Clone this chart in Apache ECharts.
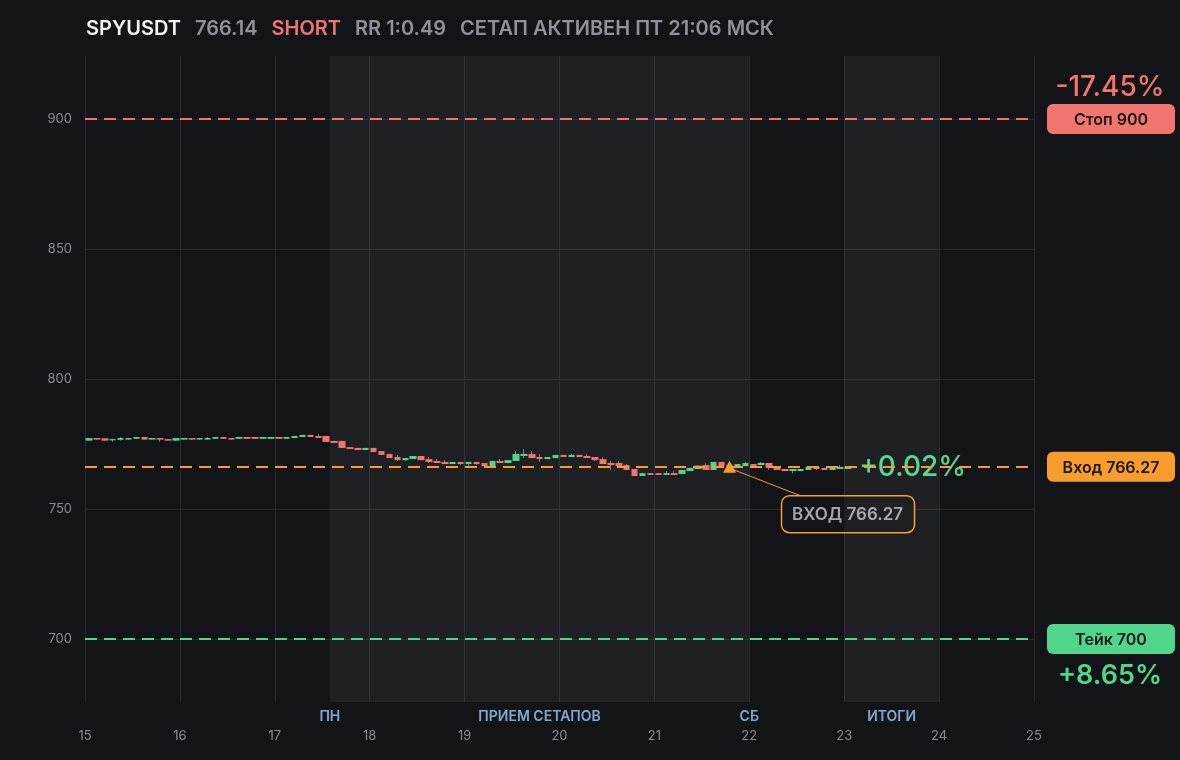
<!DOCTYPE html>
<html>
<head>
<meta charset="utf-8">
<script src="https://cdn.jsdelivr.net/npm/echarts@6/dist/echarts.min.js"></script>
<style>
html, body { margin: 0; padding: 0; background: #131418; }
#chart { width: 1180px; height: 760px; }
</style>
</head>
<body>
<div id="chart"></div>
<script>
// 2h свечи, первая начинается 15-го числа
const startDay = 15
const candlesPerDay = 12

const opens = [
  776.3, 777.3, 777.2, 776.4, 776.6, 776.7, 777.0, 777.7, 776.7, 777.3,
  776.9, 776.3, 776.7, 777.3, 776.7, 776.7, 777.0, 777.7, 777.3, 777.0,
  777.7, 777.7, 777.0, 777.0, 777.7, 777.0, 777.3, 777.7, 778.5, 778.1,
  778.1, 776.2, 776.2, 773.8, 773.5, 772.7, 773.5, 772.3, 771.2, 770.0,
  768.8, 769.2, 770.4, 769.2, 768.5, 768.1, 767.3, 768.1, 767.3, 768.1,
  767.7, 766.5, 768.5, 767.7, 768.5, 770.4, 771.2, 770.0, 769.2, 769.6,
  770.8, 770.0, 770.8, 770.4, 770.0, 769.2, 767.7, 767.7, 766.9, 765.4,
  762.7, 763.8, 763.8, 763.1, 763.8, 763.5, 764.6, 765.4, 766.9, 765.0,
  768.1, 766.5, 766.5, 766.5, 767.3, 766.9, 767.7, 765.8, 765.4, 764.6,
  764.6, 765.0, 766.2, 765.8, 765.0, 765.4, 765.4
]
const closes = [
  777.3, 776.7, 776.3, 776.9, 777.3, 777.3, 777.7, 776.7, 777.3, 776.7,
  776.3, 777.3, 777.3, 776.7, 777.3, 777.3, 777.7, 777.0, 776.7, 777.7,
  777.0, 777.0, 777.7, 777.7, 777.0, 777.7, 778.1, 778.5, 777.7, 777.3,
  775.8, 775.4, 773.5, 773.1, 772.7, 773.5, 771.9, 770.8, 769.6, 768.8,
  769.6, 770.4, 768.8, 768.1, 767.7, 767.3, 768.1, 767.3, 768.1, 767.3,
  766.5, 768.5, 767.7, 768.8, 771.2, 771.2, 769.6, 769.2, 770.0, 770.8,
  770.0, 770.8, 770.0, 769.6, 768.8, 767.3, 766.9, 766.5, 765.0, 762.7,
  763.8, 763.1, 763.1, 763.8, 763.1, 765.0, 765.8, 766.7, 765.0, 768.1,
  766.5, 767.0, 767.3, 767.7, 766.2, 767.7, 765.8, 765.0, 764.6, 765.4,
  765.4, 766.2, 765.4, 765.0, 765.8, 766.2, 766.14
]
const lows = [
  776.3, 776.7, 776.3, 775.9, 776.3, 776.7, 777.0, 776.7, 776.7, 775.9,
  776.3, 776.3, 776.7, 776.7, 776.7, 776.7, 777.0, 777.0, 776.7, 777.0,
  777.0, 777.0, 777.0, 777.0, 777.0, 777.0, 777.3, 777.7, 777.7, 777.3,
  775.8, 775.4, 773.5, 773.1, 772.7, 772.7, 771.9, 770.8, 769.6, 768.5,
  768.5, 769.2, 768.8, 767.7, 767.7, 767.3, 767.3, 766.9, 766.5, 766.9,
  766.5, 766.5, 767.7, 767.7, 768.5, 769.6, 769.6, 768.1, 769.2, 769.6,
  770.0, 770.0, 770.0, 769.6, 768.5, 767.3, 765.0, 766.5, 765.0, 762.7,
  762.7, 763.1, 763.1, 763.1, 763.1, 763.5, 764.6, 765.4, 765.0, 765.0,
  766.5, 766.5, 766.5, 766.5, 766.2, 766.9, 765.0, 765.0, 764.6, 763.8,
  764.6, 765.0, 765.0, 765.0, 765.0, 765.4, 765.4
]
const highs = [
  777.3, 777.3, 777.2, 776.9, 777.7, 777.3, 777.7, 777.7, 777.3, 777.3,
  776.9, 777.3, 777.3, 777.3, 777.3, 777.7, 777.7, 777.7, 777.3, 777.7,
  777.7, 777.7, 777.7, 777.7, 777.7, 777.7, 778.1, 778.5, 778.5, 778.8,
  778.1, 776.2, 776.2, 773.8, 773.5, 773.5, 773.5, 772.3, 771.2, 770.8,
  769.6, 770.4, 770.4, 770.0, 769.2, 768.8, 768.1, 768.1, 768.1, 768.1,
  767.7, 768.5, 769.2, 768.8, 772.3, 773.1, 772.3, 771.2, 770.0, 770.8,
  770.8, 771.2, 770.8, 771.2, 770.0, 770.0, 768.5, 768.5, 767.3, 765.4,
  763.8, 763.8, 763.8, 764.6, 764.6, 765.0, 765.8, 766.7, 767.7, 768.1,
  768.1, 767.0, 767.3, 768.1, 767.3, 768.1, 767.7, 765.8, 765.4, 765.4,
  765.4, 766.2, 766.5, 765.8, 765.8, 766.9, 766.2
]

const symbol = 'SPYUSDT'
const side = 'SHORT'
const lastPrice = 766.14
const entryPrice = 766.27
const stopPrice = 900
const takePrice = 700
const rr = '1:0.49'
const activeText = 'СЕТАП АКТИВЕН ПТ 21:06 МСК'
const entryCandle = 81

// полосы сессий и подписи под осью
const bands = [[17.58, 22], [23, 24]]
const eventNames = ['ПН', 'ПРИЕМ СЕТАПОВ', 'СБ', 'ИТОГИ']
const eventDays = [17.58, 19.79, 22, 23.5]

const yMin = 675.8
const yMax = 924.2

const GREEN = '#4fd68b'
const RED = '#f1756f'
const ORANGE = '#f89c2c'
const FONT = 'Inter, "Noto Sans", sans-serif'

const candleTime = i => startDay + (i + 0.5) / candlesPerDay

let wickData = opens.map((o, i) => [candleTime(i), o, closes[i], lows[i], highs[i]])
let bodyData = opens.map((o, i) => [candleTime(i), o, closes[i], Math.min(o, closes[i]), Math.max(o, closes[i])])

function pct(v) {
  // для шорта прибыль когда цена ниже входа
  let p = (entryPrice - v) / entryPrice * 100
  return (p >= 0 ? '+' : '-') + Math.abs(p).toFixed(2) + '%'
}

const chart = echarts.init(document.getElementById('chart'))

let option = {
  backgroundColor: '#131418',
  animation: false,
  title: {
    left: 86,
    top: 19,
    padding: 0,
    text: `{w|${symbol}}{s| }{g|${lastPrice.toFixed(2)}}{s| }{r|${side}}{s| }{g|RR ${rr}}{s| }{g|${activeText}}`,
    textStyle: {
      rich: {
        w: { color: '#f2f3f5', fontSize: 20, fontWeight: 600, fontFamily: FONT },
        g: { color: '#8f929a', fontSize: 20, fontWeight: 600, fontFamily: FONT },
        r: { color: RED, fontSize: 20, fontWeight: 600, fontFamily: FONT },
        s: { width: 14, fontSize: 20 }
      }
    }
  },
  grid: { left: 85, right: 146, top: 56, bottom: 58 },
  xAxis: {
    type: 'value',
    min: 15,
    max: 25,
    interval: 1,
    axisLine: { show: false },
    axisTick: { show: false },
    axisLabel: { color: '#8a8d95', fontSize: 13, fontFamily: FONT, margin: 28 },
    splitLine: { show: true, lineStyle: { color: '#26282d', width: 1 } }
  },
  yAxis: {
    type: 'value',
    min: yMin,
    max: yMax,
    splitNumber: 5,
    axisLine: { show: false },
    axisTick: { show: false },
    axisLabel: { color: '#8a8d95', fontSize: 13, fontFamily: FONT, margin: 13, showMinLabel: false, showMaxLabel: false },
    splitLine: { show: true, showMinLine: false, showMaxLine: false, lineStyle: { color: '#26282d', width: 1 } }
  },
  series: [
    {
      // тени серые, тело рисуется второй серией
      type: 'candlestick',
      data: wickData,
      encode: { x: 0, y: [1, 2, 3, 4] },
      barWidth: 1,
      itemStyle: { color: '#7c7f87', color0: '#7c7f87', borderColor: '#7c7f87', borderColor0: '#7c7f87', borderWidth: 1 },
      markArea: {
        silent: true,
        itemStyle: { color: 'rgba(255,255,255,0.055)' },
        data: bands.map(b => [{ xAxis: b[0] }, { xAxis: b[1] }])
      }
    },
    {
      type: 'candlestick',
      data: bodyData,
      encode: { x: 0, y: [1, 2, 3, 4] },
      barWidth: 7,
      itemStyle: { color: GREEN, color0: RED, borderColor: GREEN, borderColor0: RED, borderWidth: 0 },
      markLine: {
        silent: true,
        symbol: 'none',
        label: { show: false },
        data: [
          { yAxis: stopPrice, lineStyle: { color: RED, type: [12, 7], width: 2 } },
          { yAxis: entryPrice, lineStyle: { color: ORANGE, type: [12, 7], width: 2 } },
          { yAxis: takePrice, lineStyle: { color: GREEN, type: [12, 7], width: 2 } }
        ]
      },
      markPoint: {
        silent: true,
        data: [{
          coord: [candleTime(entryCandle), entryPrice],
          symbol: 'triangle',
          symbolSize: [13, 12],
          itemStyle: { color: ORANGE },
          label: { show: false }
        }]
      },
      z: 3
    },
    {
      type: 'scatter',
      data: eventDays.map((d, i) => ({ value: [d, yMin], name: eventNames[i] })),
      symbolSize: 0,
      clip: false,
      silent: true,
      label: {
        show: true,
        position: 'bottom',
        distance: 8,
        formatter: p => p.name,
        color: '#9dcdf7',
        fontSize: 14,
        fontWeight: 600,
        fontFamily: FONT
      }
    }
  ]
}

chart.setOption(option)

// подписи справа и аннотация входа
let graphics = []
const levels = [
  { v: stopPrice, name: 'Стоп ' + stopPrice, color: RED },
  { v: entryPrice, name: 'Вход ' + entryPrice.toFixed(2), color: ORANGE },
  { v: takePrice, name: 'Тейк ' + takePrice, color: GREEN }
]
levels.forEach(l => {
  let py = chart.convertToPixel({ yAxisIndex: 0 }, l.v)
  graphics.push({
    type: 'rect',
    shape: { x: 1047, y: py - 15, width: 128, height: 30, r: 6 },
    style: { fill: l.color }
  })
  graphics.push({
    type: 'text',
    style: { text: l.name, x: 1111, y: py + 1, textAlign: 'center', textVerticalAlign: 'middle', fill: '#17181c', font: '600 16px ' + FONT }
  })
})

let stopY = chart.convertToPixel({ yAxisIndex: 0 }, stopPrice)
let takeY = chart.convertToPixel({ yAxisIndex: 0 }, takePrice)
graphics.push({
  type: 'text',
  style: { text: pct(stopPrice), x: 1110, y: stopY - 31, textAlign: 'center', textVerticalAlign: 'middle', fill: RED, font: '500 28px ' + FONT }
})
graphics.push({
  type: 'text',
  style: { text: pct(takePrice), x: 1110, y: takeY + 37, textAlign: 'center', textVerticalAlign: 'middle', fill: GREEN, font: '600 27px ' + FONT }
})

let lastPt = chart.convertToPixel({ gridIndex: 0 }, [candleTime(opens.length - 1), lastPrice])
graphics.push({
  type: 'text',
  style: { text: pct(lastPrice), x: lastPt[0] + 11, y: lastPt[1] + 1, textAlign: 'left', textVerticalAlign: 'middle', fill: GREEN, font: '500 28px ' + FONT }
})

let ep = chart.convertToPixel({ gridIndex: 0 }, [candleTime(entryCandle), entryPrice])
graphics.push({
  type: 'line',
  shape: { x1: ep[0] + 4, y1: ep[1] + 3, x2: ep[0] + 71, y2: ep[1] + 29 },
  style: { stroke: ORANGE, lineWidth: 1 }
})
graphics.push({
  type: 'rect',
  shape: { x: ep[0] + 52, y: ep[1] + 29, width: 133, height: 37, r: 8 },
  style: { fill: '#131418', stroke: ORANGE, lineWidth: 1.5 }
})
graphics.push({
  type: 'text',
  style: { text: 'ВХОД ' + entryPrice.toFixed(2), x: ep[0] + 118, y: ep[1] + 48, textAlign: 'center', textVerticalAlign: 'middle', fill: '#a3a6ad', font: '600 17px ' + FONT }
})

chart.setOption({ graphic: graphics })
</script>
</body>
</html>
